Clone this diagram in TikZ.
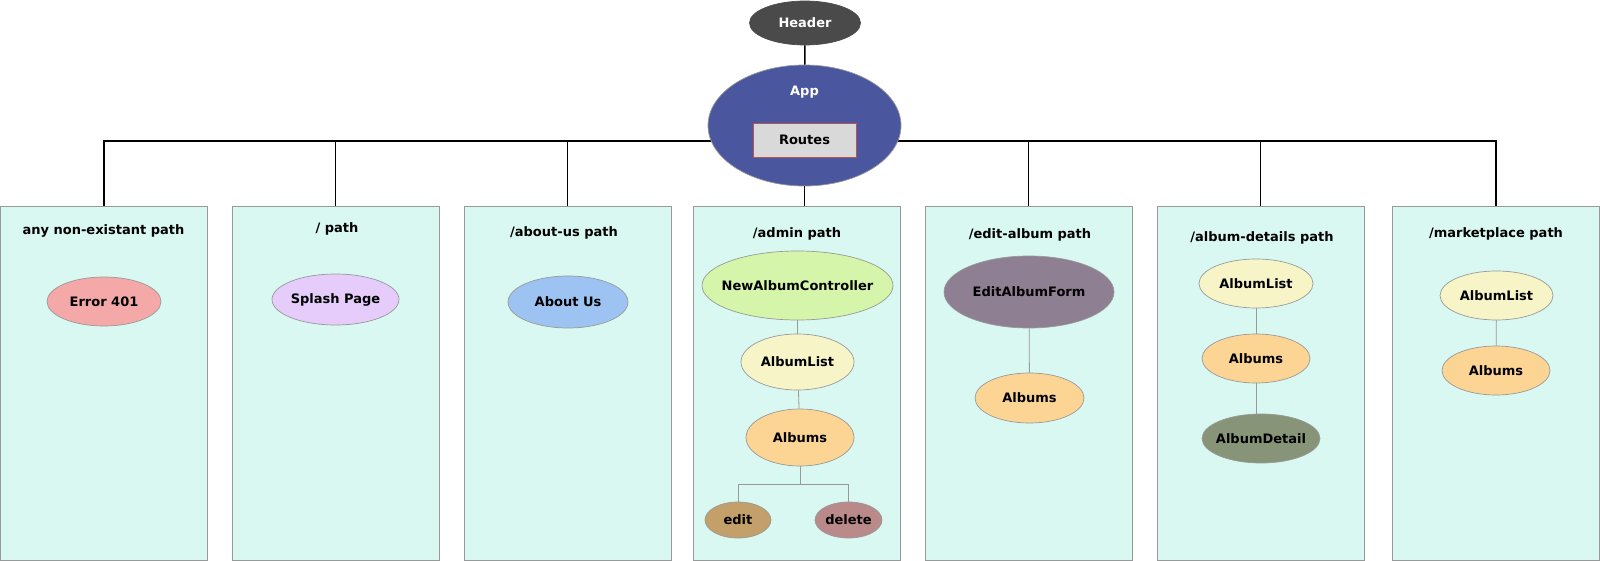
\documentclass[tikz,border=0pt]{standalone}
\usepackage{fontspec}
\setmainfont{DejaVu Sans}
\usetikzlibrary{shapes.geometric, positioning}

\definecolor{headergray}{HTML}{4A4A4A}
\definecolor{appblue}{HTML}{4A569D}
\definecolor{routesgray}{HTML}{D9D9D9}
\definecolor{routesborder}{HTML}{B85450}
\definecolor{boxmint}{HTML}{D9F8F1}
\definecolor{boxborder}{HTML}{999999}
\definecolor{edgegray}{HTML}{999999}
\definecolor{errorred}{HTML}{F4A9A8}
\definecolor{splashlilac}{HTML}{E5CCFA}
\definecolor{aboutblue}{HTML}{9DC3F3}
\definecolor{ctrlgreen}{HTML}{D5F5AA}
\definecolor{listyellow}{HTML}{F7F5C8}
\definecolor{albumsorange}{HTML}{FCD594}
\definecolor{editbrown}{HTML}{C3A06A}
\definecolor{deletemauve}{HTML}{BA8A8A}
\definecolor{formpurple}{HTML}{8F7F92}
\definecolor{detailgreen}{HTML}{879478}

\newcommand{\labelfont}{\fontsize{13}{15}\selectfont\bfseries}

\begin{document}
\begin{tikzpicture}[x=1pt, y=-1pt,
    pathbox/.style={rectangle, draw=boxborder, fill=boxmint, line width=0.8pt, minimum width=207pt, minimum height=354pt, inner sep=0pt},
    comp/.style={ellipse, draw=edgegray, line width=0.7pt, inner sep=0pt, font=\labelfont,
        execute at begin node={\hbox to 0pt\bgroup\hss}, execute at end node={\hss\egroup}},
    esize/.style 2 args={minimum width=#1pt, minimum height=#2pt},
    title/.style={font=\labelfont, inner sep=0pt},
    busline/.style={draw, black, line width=1.6pt},
    treeline/.style={draw, edgegray, line width=0.8pt}
]
\useasboundingbox (0,0) rectangle (1600,561);

% ─── Route Boxes ─────────────────────────────────────────────────────
\foreach \x/\i in {103.9/1, 335.5/2, 567.5/3, 797/4, 1028.5/5, 1260.5/6, 1496/7} {
    \node[pathbox] (box\i) at (\x, 383) {};
}

% ─── Bus from App to every path ──────────────────────────────────────
\coordinate (bus) at (805, 141);
\draw[busline] (box1.north) |- (bus) -| (box7.north);
\foreach \i in {2, 3, 5, 6} {
    \draw[busline] (box\i.north) -- (box\i.north |- bus);
}

% ─── Header and App (Top) ────────────────────────────────────────────
\node[comp, esize={111}{44}, fill=headergray, draw=headergray, text=white] (header) at (805, 23) {Header};
\node[comp, esize={193}{121}, fill=appblue] (app) at (804.5, 125.5) {};
\node[title, text=white] (applabel) at (804.5, 92) {App};
\node[rectangle, draw=routesborder, fill=routesgray, line width=0.8pt, minimum width=103pt, minimum height=34pt, font=\labelfont] (routes) at (804.5, 140) {Routes};

\draw[busline] (header) -- (app);
\draw[busline] (app.south) -- (app.south |- box4.north);

% ─── Box Titles ──────────────────────────────────────────────────────
\node[title] (t1) at (103.5, 231) {any non-existant path};
\node[title] (t2) at (337, 229) {/ path};
\node[title] (t3) at (564, 233) {/about-us path};
\node[title] (t4) at (797, 234) {/admin path};
\node[title] (t5) at (1030, 235) {/edit-album path};
\node[title] (t6) at (1262, 238) {/album-details path};
\node[title] (t7) at (1496, 234) {/marketplace path};

% ─── Single Pages ────────────────────────────────────────────────────
\node[comp, esize={114}{49}, fill=errorred] (error) at (104, 301.5) {Error 401};
\node[comp, esize={127}{51}, fill=splashlilac] (splash) at (335.5, 299.5) {Splash Page};
\node[comp, esize={120}{52}, fill=aboutblue] (about) at (568, 302) {About Us};

% ─── Admin Tree ──────────────────────────────────────────────────────
\node[comp, esize={191}{69}, fill=ctrlgreen] (ctrl) at (797.5, 285.5) {NewAlbumController};
\node[comp, esize={113}{56}, fill=listyellow] (alist4) at (797.5, 362) {AlbumList};
\node[comp, esize={108}{57}, fill=albumsorange] (albums4) at (800, 437.5) {Albums};
\node[comp, esize={66}{36}, fill=editbrown] (edit) at (738, 520) {edit};
\node[comp, esize={67}{36}, fill=deletemauve] (delete) at (848.5, 520) {delete};
\coordinate (fork) at (800, 484);

\draw[treeline] (ctrl) -- (alist4);
\draw[treeline] (alist4) -- (albums4);
\draw[treeline] (albums4.south) -- (fork) -| (edit.north);
\draw[treeline] (fork) -| (delete.north);

% ─── Edit Album Tree ─────────────────────────────────────────────────
\node[comp, esize={170}{72}, fill=formpurple] (form) at (1029, 292) {EditAlbumForm};
\node[comp, esize={109}{50}, fill=albumsorange] (albums5) at (1029.5, 398) {Albums};
\draw[treeline] (form) -- (albums5);

% ─── Album Details Tree ──────────────────────────────────────────────
\node[comp, esize={114}{49}, fill=listyellow] (alist6) at (1256, 283.5) {AlbumList};
\node[comp, esize={108}{49}, fill=albumsorange] (albums6) at (1256, 358.5) {Albums};
\node[comp, esize={118}{49}, fill=detailgreen] (detail) at (1261, 438.5) {AlbumDetail};
\draw[treeline] (alist6) -- (albums6);
\draw[treeline] (albums6.south) -- (albums6.south |- detail.north);

% ─── Marketplace Tree ────────────────────────────────────────────────
\node[comp, esize={113}{49}, fill=listyellow] (alist7) at (1496.5, 295.5) {AlbumList};
\node[comp, esize={108}{49}, fill=albumsorange] (albums7) at (1496, 370.5) {Albums};
\draw[treeline] (alist7) -- (albums7);

\end{tikzpicture}
\end{document}
